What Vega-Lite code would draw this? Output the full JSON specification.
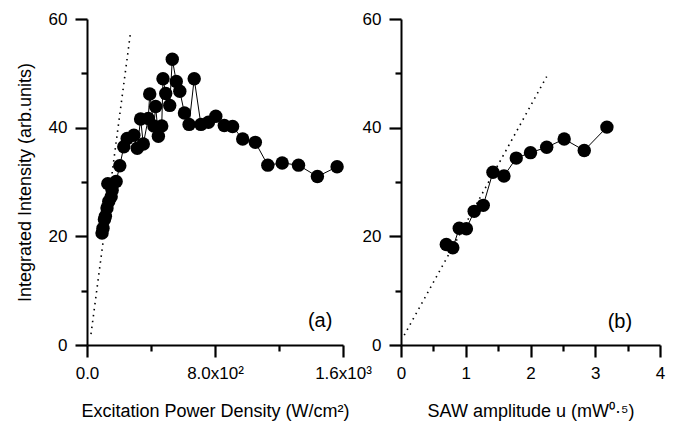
{
  "$schema": "https://vega.github.io/schema/vega-lite/v6.json",
  "background": "white",
  "padding": {"left": 16, "top": 10, "right": 5, "bottom": 5},
  "bounds": "flush",
  "spacing": 58,
  "config": {
    "font": "Liberation Sans",
    "view": {"stroke": null},
    "axis": {
      "grid": false,
      "domainWidth": 2,
      "tickWidth": 2.2,
      "labelColor": "black",
      "titleColor": "black",
      "labelFont": "Liberation Sans",
      "titleFont": "Liberation Sans",
      "labelFontSize": 17,
      "titleFontSize": 18,
      "titleFontWeight": "normal",
      "labelFlush": false,
      "labelOverlap": false
    }
  },
  "datasets": {
    "a_pts": [
      {"x": 94, "y": 20.6}, {"x": 100, "y": 21.5}, {"x": 109, "y": 23.1}, {"x": 115, "y": 23.7},
      {"x": 125, "y": 25.2}, {"x": 130, "y": 29.7}, {"x": 136, "y": 26.4}, {"x": 151, "y": 27.3},
      {"x": 157, "y": 28.5}, {"x": 182, "y": 30.1}, {"x": 205, "y": 33.0}, {"x": 230, "y": 36.5},
      {"x": 251, "y": 38.0}, {"x": 293, "y": 38.6}, {"x": 314, "y": 36.2}, {"x": 335, "y": 41.6},
      {"x": 352, "y": 37.0}, {"x": 383, "y": 41.7}, {"x": 392, "y": 46.2}, {"x": 418, "y": 40.3},
      {"x": 429, "y": 43.9}, {"x": 446, "y": 38.4}, {"x": 467, "y": 40.3}, {"x": 475, "y": 49.0},
      {"x": 492, "y": 46.3}, {"x": 517, "y": 44.1}, {"x": 533, "y": 52.6}, {"x": 558, "y": 48.5},
      {"x": 580, "y": 46.7}, {"x": 609, "y": 42.7}, {"x": 638, "y": 40.6}, {"x": 670, "y": 49.0},
      {"x": 712, "y": 40.6}, {"x": 759, "y": 41.0}, {"x": 805, "y": 42.1}, {"x": 858, "y": 40.4},
      {"x": 910, "y": 40.2}, {"x": 973, "y": 37.9}, {"x": 1052, "y": 37.3}, {"x": 1130, "y": 33.1},
      {"x": 1220, "y": 33.5}, {"x": 1322, "y": 33.1}, {"x": 1440, "y": 31.0}, {"x": 1563, "y": 32.8}
    ],
    "a_fit": [{"x": 25, "y": 2}, {"x": 272, "y": 57.5}],
    "a_lab": [{"x": 1457, "y": 4.5, "label": "(a)"}],
    "b_pts": [
      {"x": 0.70, "y": 18.5}, {"x": 0.80, "y": 17.9}, {"x": 0.90, "y": 21.5}, {"x": 1.01, "y": 21.4},
      {"x": 1.13, "y": 24.6}, {"x": 1.27, "y": 25.7}, {"x": 1.42, "y": 31.8}, {"x": 1.59, "y": 31.1},
      {"x": 1.78, "y": 34.4}, {"x": 2.00, "y": 35.4}, {"x": 2.25, "y": 36.4}, {"x": 2.52, "y": 37.9},
      {"x": 2.83, "y": 35.8}, {"x": 3.18, "y": 40.1}
    ],
    "b_fit": [{"x": 0.05, "y": 1.8}, {"x": 2.25, "y": 49.4}],
    "b_lab": [{"x": 3.38, "y": 4.3, "label": "(b)"}]
  },
  "hconcat": [
    {
      "width": 256,
      "height": 326,
      "encoding": {
        "x": {
          "field": "x", "type": "quantitative",
          "scale": {"domain": [0, 1600], "nice": false},
          "axis": {
            "title": "Excitation Power Density (W/cm²)",
            "values": [0, 400, 800, 1200, 1600],
            "labelExpr": "datum.value == 0 ? '0.0' : datum.value == 800 ? '8.0x10²' : datum.value == 1600 ? '1.6x10³' : ''",
            "tickSize": {"condition": {"test": "datum.value % 800 == 0", "value": 12}, "value": 6},
            "tickColor": "#000000",
            "domainColor": "#000000",
            "labelPadding": 8,
            "titlePadding": 21
          }
        },
        "y": {
          "field": "y", "type": "quantitative",
          "scale": {"domain": [0, 60], "nice": false},
          "axis": {
            "title": "Integrated Intensity (arb.units)",
            "values": [0, 10, 20, 30, 40, 50, 60],
            "labelExpr": "datum.value % 20 == 0 ? datum.value : ''",
            "tickSize": {"condition": {"test": "datum.value % 20 == 0", "value": 12}, "value": 6},
            "tickColor": "#000000",
            "domainColor": "#000000",
            "labelPadding": 8,
            "titlePadding": 14
          }
        }
      },
      "layer": [
        {"data": {"name": "a_fit"}, "mark": {"type": "line", "color": "black", "strokeWidth": 1.6, "strokeDash": [1.5, 4.5]}},
        {"data": {"name": "a_pts"}, "mark": {"type": "line", "color": "black", "strokeWidth": 1}},
        {"data": {"name": "a_pts"}, "mark": {"type": "circle", "color": "black", "opacity": 1, "size": 180}},
        {"data": {"name": "a_lab"}, "mark": {"type": "text", "fontSize": 20, "color": "black", "font": "Liberation Sans"}, "encoding": {"text": {"field": "label"}}}
      ]
    },
    {
      "width": 259,
      "height": 326,
      "encoding": {
        "x": {
          "field": "x", "type": "quantitative",
          "scale": {"domain": [0, 4], "nice": false},
          "axis": {
            "title": "SAW amplitude u (mW⁰·⁵)",
            "values": [0, 0.5, 1, 1.5, 2, 2.5, 3, 3.5, 4],
            "labelExpr": "datum.value % 1 == 0 ? datum.value : ''",
            "tickSize": {"condition": {"test": "datum.value % 1 == 0", "value": 12}, "value": 6},
            "tickColor": "#000000",
            "domainColor": "#000000",
            "labelPadding": 8,
            "titlePadding": 21
          }
        },
        "y": {
          "field": "y", "type": "quantitative",
          "scale": {"domain": [0, 60], "nice": false},
          "axis": {
            "title": null,
            "values": [0, 10, 20, 30, 40, 50, 60],
            "labelExpr": "datum.value % 20 == 0 ? datum.value : ''",
            "tickSize": {"condition": {"test": "datum.value % 20 == 0", "value": 12}, "value": 6},
            "tickColor": "#000000",
            "domainColor": "#000000",
            "labelPadding": 8
          }
        }
      },
      "layer": [
        {"data": {"name": "b_fit"}, "mark": {"type": "line", "color": "black", "strokeWidth": 1.6, "strokeDash": [1.5, 4.5]}},
        {"data": {"name": "b_pts"}, "mark": {"type": "line", "color": "black", "strokeWidth": 1}},
        {"data": {"name": "b_pts"}, "mark": {"type": "circle", "color": "black", "opacity": 1, "size": 180}},
        {"data": {"name": "b_lab"}, "mark": {"type": "text", "fontSize": 20, "color": "black", "font": "Liberation Sans"}, "encoding": {"text": {"field": "label"}}}
      ]
    }
  ]
}
